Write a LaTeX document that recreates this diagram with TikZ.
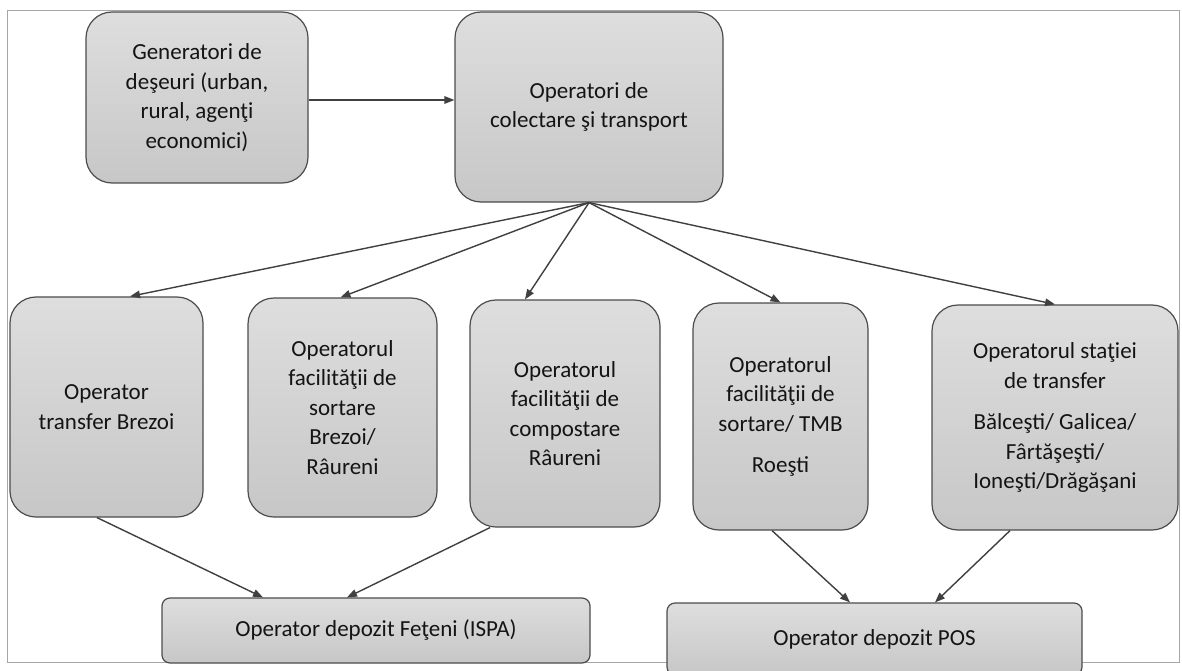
\documentclass[tikz,border=0pt]{standalone}
\usepackage{fontspec}
\setmainfont{Carlito}
\usetikzlibrary{arrows.meta}
\begin{document}
\begin{tikzpicture}[x=1pt,y=-1pt,
  box/.style={draw=black!70, line width=1.2pt, top color=black!13, bottom color=black!22,
    rounded corners=26pt, align=center, inner sep=0pt, text=black!92,
    font=\fontsize{23}{29.5}\selectfont},
  flat/.style={box, rounded corners=8pt},
  arr/.style={draw=black!75, line width=1.4pt, -{Triangle[length=10pt,width=7.5pt]}}]
\clip (0,0) rectangle (1182,671);
\fill[white] (0,0) rectangle (1182,671);
\draw[black!35, line width=0.8pt] (7,10) rectangle (1179,662);

\node[box, minimum width=222pt, minimum height=171pt] (gen) at (197,97.5)
  {Generatori de\\deşeuri (urban,\\rural, agenţi\\economici)};
\node[box, minimum width=268pt, minimum height=190pt] (col) at (589,107)
  {Operatori de\\colectare şi transport};

\node[box, minimum width=193pt, minimum height=220pt] (b1) at (106.5,407)
  {Operator\\transfer Brezoi};
\node[box, minimum width=189pt, minimum height=219pt] (b2) at (342.5,407.5)
  {Operatorul\\facilităţii de\\sortare\\Brezoi/\\Râureni};
\node[box, minimum width=190pt, minimum height=227pt] (b3) at (565,413.5)
  {Operatorul\\facilităţii de\\compostare\\Râureni};
\node[box, minimum width=175pt, minimum height=227pt] (b4) at (780.5,416.5)
  {Operatorul\\facilităţii de\\sortare/ TMB\\[12pt]Roeşti};
\node[box, minimum width=246pt, minimum height=225pt] (b5) at (1055,417.5)
  {Operatorul staţiei\\de transfer\\[12pt]Bălceşti/ Galicea/\\Fârtăşeşti/\\Ioneşti/Drăgăşani};

\node[flat, minimum width=428pt, minimum height=65pt] (fet) at (376,630.5)
  {Operator depozit Feţeni (ISPA)};
\node[flat, minimum width=415pt, minimum height=72pt] (pos) at (874.5,639)
  {Operator depozit POS};

\draw[arr] (gen.east |- 0,100) -- (col.west |- 0,100);

\draw[arr] (col.south) -- ([xshift=23.5pt]b1.north);
\draw[arr] (col.south) -- ([xshift=-2pt]b2.north);
\draw[arr] (col.south) -- ([xshift=-40pt]b3.north);
\draw[arr] (col.south) -- (b4.north);
\draw[arr] (col.south) -- (b5.north);

\draw[arr] ([xshift=-9.5pt]b1.south) -- ([xshift=-113pt]fet.north);
\draw[arr] ([xshift=-75pt]b3.south) -- ([xshift=-29pt]fet.north);
\draw[arr] ([xshift=-8.5pt]b4.south) -- ([xshift=-24.5pt]pos.north);
\draw[arr] ([xshift=-45pt]b5.south) -- ([xshift=60.5pt]pos.north);
\end{tikzpicture}
\end{document}
